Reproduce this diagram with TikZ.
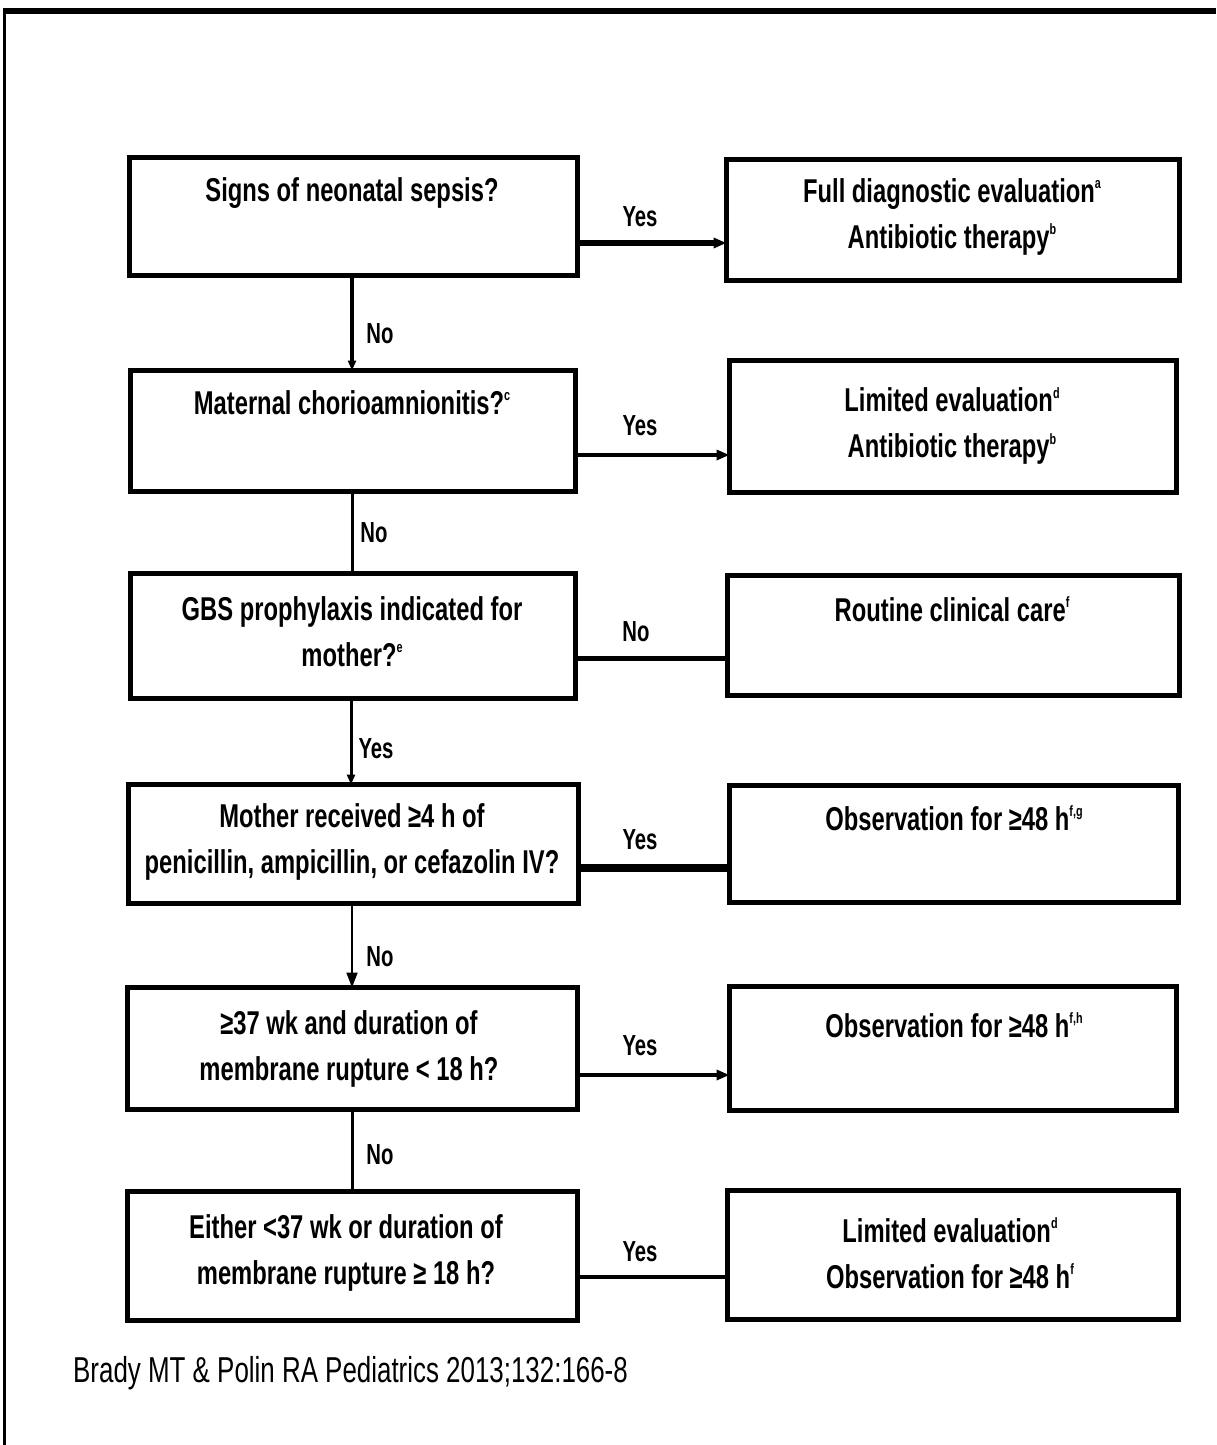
\documentclass[tikz,border=0pt]{standalone}
\usepackage{fontspec}
\setmainfont{Liberation Sans}[FakeStretch=0.72]
\newfontfamily\lblfont{Liberation Sans}[FakeStretch=0.70]
\usetikzlibrary{arrows.meta}

% small raised note letters
\newcommand{\fnote}[1]{\raisebox{0.42em}{\fontsize{15}{15}\selectfont #1}}

\tikzset{
  qbox/.style={draw, line width=5pt, rectangle, inner sep=0pt, outer sep=0pt},
  txt/.style={align=center, inner sep=0pt, font=\fontsize{33}{46}\selectfont\bfseries},
  lbl/.style={inner sep=0pt, font=\lblfont\fontsize{29}{32}\selectfont\bfseries},
  conn/.style={line width=#1},
  conn/.default=4pt,
  tip/.style={-{Triangle[length=13pt,width=10pt]}}
}

\begin{document}
\begin{tikzpicture}[x=1pt,y=-1pt]
\useasboundingbox (0,0) rectangle (1216,1445);

% outer frame (top and left edges)
\draw[line width=6pt] (3,11.5) -- (1216,11.5);
\draw[line width=3pt] (4.5,9) -- (4.5,1445);

% question boxes (left column)
\node[qbox, minimum width=448pt, minimum height=118pt] (q1) at (353.5,216.5) {};
\node[qbox, minimum width=445pt, minimum height=121pt] (q2) at (353,431) {};
\node[qbox, minimum width=445pt, minimum height=125pt] (q3) at (353,636) {};
\node[qbox, minimum width=450pt, minimum height=119pt] (q4) at (353.5,844) {};
\node[qbox, minimum width=450pt, minimum height=122pt] (q5) at (352.5,1048.5) {};
\node[qbox, minimum width=450pt, minimum height=129pt] (q6) at (352.5,1256) {};

% action boxes (right column)
\node[qbox, minimum width=453pt, minimum height=121pt] (r1) at (953,220) {};
\node[qbox, minimum width=447pt, minimum height=132pt] (r2) at (953,426.5) {};
\node[qbox, minimum width=452pt, minimum height=120pt] (r3) at (953.5,635.5) {};
\node[qbox, minimum width=449pt, minimum height=117pt] (r4) at (954,844) {};
\node[qbox, minimum width=447pt, minimum height=124pt] (r5) at (953,1048.5) {};
\node[qbox, minimum width=451pt, minimum height=129pt] (r6) at (953,1255) {};

% question texts
\node[txt] (t1) at (352,193) {Signs of neonatal sepsis?};
\node[txt] (t2) at (352,403) {Maternal chorioamnionitis?\fnote{c}};
\node[txt] (t3) at (352,632) {GBS prophylaxis indicated for\\mother?\fnote{e}};
\node[txt] (t4) at (352,842) {Mother received ≥4 h of\\penicillin, ampicillin, or cefazolin IV?};
\node[txt] (t5) at (349,1049) {≥37 wk and duration of\\membrane rupture < 18 h?};
\node[txt] (t6) at (346,1253) {Either <37 wk or duration of\\membrane rupture ≥ 18 h?};

% action texts
\node[txt] (u1) at (952,217) {Full diagnostic evaluation\fnote{a}\\Antibiotic therapy\fnote{b}};
\node[txt] (u2) at (952,426) {Limited evaluation\fnote{d}\\Antibiotic therapy\fnote{b}};
\node[txt] (u3) at (952,609) {Routine clinical care\fnote{f}};
\node[txt] (u4) at (954,818) {Observation for ≥48 h\fnote{f,g}};
\node[txt] (u5) at (954,1025) {Observation for ≥48 h\fnote{f,h}};
\node[txt] (u6) at (950,1253) {Limited evaluation\fnote{d}\\Observation for ≥48 h\fnote{f}};

% horizontal connectors
\draw[conn=6pt, tip] (q1.east |- 0,243) -- (r1.west |- 0,243);
\draw[conn=4pt, tip] (q2.east |- 0,455) -- (r2.west |- 0,455);
\draw[conn=5pt] (q3.east |- 0,658) -- (r3.west |- 0,658);
\draw[conn=8pt] (q4.east |- 0,868) -- (r4.west |- 0,868);
\draw[conn=4pt, tip] (q5.east |- 0,1075) -- (r5.west |- 0,1075);
\draw[conn=3.5pt] (q6.east |- 0,1277) -- (r6.west |- 0,1277);

% vertical connectors
\draw[conn=4pt, -{Triangle[length=10pt,width=8pt]}] (q1.south -| 352,0) -- (q2.north -| 352,0);
\draw[conn=3pt] (q2.south -| 352,0) -- (q3.north -| 352,0);
\draw[conn=3pt, -{Triangle[length=10pt,width=8pt]}] (q3.south -| 351,0) -- (q4.north -| 351,0);
\draw[conn=2pt, -{Triangle[length=15pt,width=11pt]}] (q4.south -| 352,0) -- (q5.north -| 352,0);
\draw[conn=3pt] (q5.south -| 352,0) -- (q6.north -| 352,0);

% connector labels
\node[lbl] (y1) at (640,217) {Yes};
\node[lbl] (n1) at (380,334) {No};
\node[lbl] (y2) at (640,426) {Yes};
\node[lbl] (n2) at (374,533) {No};
\node[lbl] (n3) at (636,632) {No};
\node[lbl] (y3) at (376,749) {Yes};
\node[lbl] (y4) at (640,840) {Yes};
\node[lbl] (n4) at (380,957) {No};
\node[lbl] (y5) at (640,1046) {Yes};
\node[lbl] (n5) at (380,1155) {No};
\node[lbl] (y6) at (640,1252) {Yes};

% source line
\node[anchor=west, inner sep=0pt, font=\fontsize{36}{40}\selectfont] (src) at (73,1373) {Brady MT \& Polin RA Pediatrics 2013;132:166-8};
\end{tikzpicture}
\end{document}
